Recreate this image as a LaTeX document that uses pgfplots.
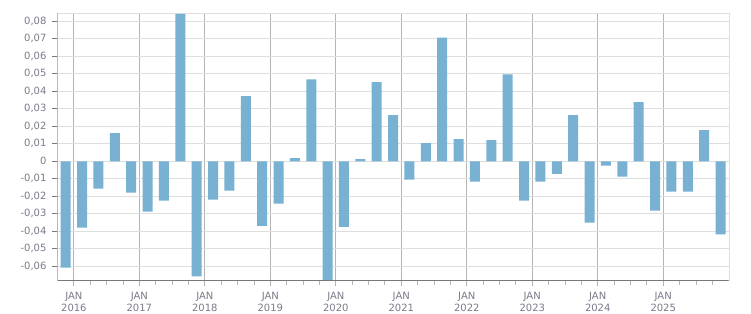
\documentclass[border=0pt]{standalone}
\usepackage{pgfplots}
\pgfplotsset{compat=1.18}
\usepackage{fontspec}
\setmainfont{DejaVu Sans}
\definecolor{barblue}{RGB}{120,177,210}
\definecolor{txtgray}{RGB}{122,122,138}
\definecolor{gridh}{RGB}{222,222,222}
\definecolor{gridv}{RGB}{180,180,180}
\definecolor{axgray}{RGB}{120,120,120}
\pgfplotstableread{
x y
0.5 -0.0607
1.5 -0.0379
2.5 -0.0156
3.5 0.0161
4.5 -0.0179
5.5 -0.0287
6.5 -0.0225
7.5 0.0842
8.5 -0.0658
9.5 -0.0219
10.5 -0.0168
11.5 0.0372
12.5 -0.0369
13.5 -0.0242
14.5 0.0019
15.5 0.0469
16.5 -0.0750
17.5 -0.0375
18.5 0.0012
19.5 0.0452
20.5 0.0264
21.5 -0.0105
22.5 0.0104
23.5 0.0707
24.5 0.0127
25.5 -0.0116
26.5 0.0121
27.5 0.0497
28.5 -0.0225
29.5 -0.0116
30.5 -0.0071
31.5 0.0264
32.5 -0.0350
33.5 -0.0025
34.5 -0.0088
35.5 0.0338
36.5 -0.0282
37.5 -0.0173
38.5 -0.0173
39.5 0.0178
40.5 -0.0418
}\datatable
\begin{document}
\begin{tikzpicture}[x=1pt,y=1pt]
\useasboundingbox (0,0) rectangle (751,313);
\begin{axis}[
  at={(57.5pt,32.5pt)}, anchor=south west,
  scale only axis, width=671.2pt, height=267.2pt,
  xmin=0, xmax=41, ymin=-0.0681, ymax=0.0846,
  scaled y ticks=false,
  axis line style={draw=gridh},
  font=\fontsize{10}{12.3}\selectfont,
  ticklabel style={text=txtgray},
  ytick={-0.06,-0.05,...,0.081},
  yticklabels={{-0,06},{-0,05},{-0,04},{-0,03},{-0,02},{-0,01},{0},{0,01},{0,02},{0,03},{0,04},{0,05},{0,06},{0,07},{0,08}},
  yticklabel style={xshift=-2.5pt},
  ytick pos=left,
  xtick={1,5,...,37},
  xticklabels={{JAN\\2016},{JAN\\2017},{JAN\\2018},{JAN\\2019},{JAN\\2020},{JAN\\2021},{JAN\\2022},{JAN\\2023},{JAN\\2024},{JAN\\2025}},
  xticklabel style={align=center, yshift=-3pt},
  minor xtick={2,3,4,6,7,8,10,11,12,14,15,16,18,19,20,22,23,24,26,27,28,30,31,32,34,35,36,38,39,40},
  xtick pos=bottom,
  tick align=outside,
  major tick length=5pt, minor tick length=4pt,
  every tick/.style={draw=axgray, line width=0.8pt},
  minor tick style={draw=axgray, line width=0.8pt},
  ymajorgrids, xmajorgrids,
  y grid style={draw=gridh, line width=0.9pt},
  x grid style={draw=gridv, line width=0.9pt},
  xtick style={draw=gridv, line width=0.9pt},
  ytick style={draw=axgray, line width=0.8pt},
]
\addplot[ybar, bar width=10pt, fill=barblue, draw=none] table[x=x,y=y] {\datatable};
\draw[axgray, line width=2pt] (rel axis cs:0,0) -- (rel axis cs:1,0);
\draw[axgray, line width=1.4pt] (rel axis cs:0,0) -- (rel axis cs:0,1);
\end{axis}
\end{tikzpicture}
\end{document}
